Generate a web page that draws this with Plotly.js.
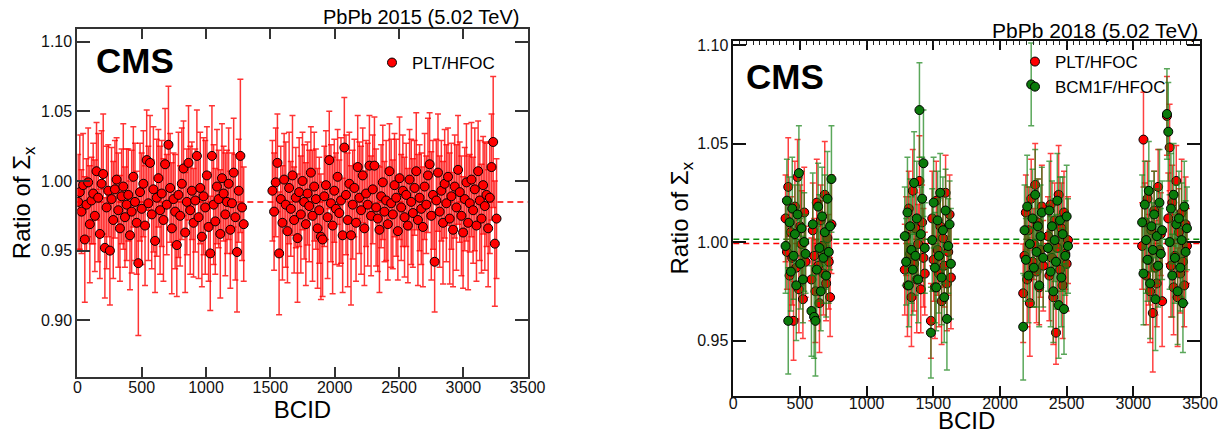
<!DOCTYPE html>
<html>
<head>
<meta charset="utf-8">
<script src="https://cdn.plot.ly/plotly-3.0.1.min.js"></script>
<style>html,body{margin:0;padding:0;background:#fff;}#chart{width:1224px;height:434px;}</style>
</head>
<body>
<div id="chart"></div>
<script>
// ---------- PbPb 2015 : PLT/HFOC ----------
const bcid2015 = [
  6,19,32,45,58,71,84,97,110,123,
  136,149,162,175,188,201,214,227,240,253,
  266,279,292,305,318,331,344,357,370,383,
  396,409,422,435,448,461,474,487,500,513,
  526,539,552,565,578,591,604,617,630,643,
  656,669,682,695,708,721,734,747,760,773,
  786,799,812,825,838,851,864,877,890,903,
  916,929,942,955,968,981,994,1007,1020,1033,
  1046,1059,1072,1085,1098,1111,1124,1137,1150,1163,
  1176,1189,1202,1215,1228,1241,1254,1267,1280,1293,
  1516,1529,1542,1555,1568,1581,1594,1607,1620,1633,
  1646,1659,1672,1685,1698,1711,1724,1737,1750,1763,
  1776,1789,1802,1815,1828,1841,1854,1867,1880,1893,
  1906,1919,1932,1945,1958,1971,1984,1997,2010,2023,
  2036,2049,2062,2075,2088,2101,2114,2127,2140,2153,
  2166,2179,2192,2205,2218,2231,2244,2257,2270,2283,
  2296,2309,2322,2335,2348,2361,2374,2387,2400,2413,
  2426,2439,2452,2465,2478,2491,2504,2517,2530,2543,
  2556,2569,2582,2595,2608,2621,2634,2647,2660,2673,
  2686,2699,2712,2725,2738,2751,2764,2777,2790,2803,
  2816,2829,2842,2855,2868,2881,2894,2907,2920,2933,
  2946,2959,2972,2985,2998,3011,3024,3037,3050,3063,
  3076,3089,3102,3115,3128,3141,3154,3167,3180,3193,
  3206,3219,3232,3245,3258
];
const ratio2015 = [
  0.985,0.992,0.978,0.997,0.958,0.983,0.999,0.969,0.986,0.991,
  0.975,1.007,0.988,0.962,0.998,1.005,0.952,0.981,0.993,0.950,
  0.987,0.972,0.994,1.001,0.979,0.966,0.989,0.996,0.974,0.983,
  0.990,0.961,0.978,1.003,0.985,0.970,0.941,0.992,0.980,0.998,
  0.968,1.015,0.984,1.013,0.976,0.994,0.957,0.988,1.002,0.979,
  0.991,0.972,1.012,0.983,1.026,0.995,0.966,0.987,0.978,0.954,
  0.990,0.975,0.998,1.009,0.963,0.985,1.013,0.979,0.993,0.970,
  0.986,1.018,0.974,0.995,0.960,0.989,0.981,1.004,0.967,0.948,
  1.018,0.983,0.971,0.996,0.987,0.962,1.002,0.991,0.976,0.985,
  0.998,0.965,0.984,1.006,0.974,0.949,0.993,1.018,0.981,0.969,
  0.993,0.978,0.999,1.013,0.948,0.987,0.970,1.001,0.983,0.964,
  0.995,0.980,1.004,0.972,0.988,0.959,0.992,0.976,1.000,0.985,
  0.969,0.991,0.982,1.006,0.975,0.996,0.987,0.966,0.979,0.960,
  0.958,0.989,0.997,0.974,1.015,0.984,0.968,0.993,0.980,1.003,
  0.977,0.986,0.961,1.024,0.990,0.972,0.998,0.961,0.983,0.995,
  0.970,1.010,0.988,0.979,1.004,0.966,0.991,0.983,1.011,0.975,
  0.994,1.011,0.981,0.973,0.965,0.989,0.999,0.978,0.986,0.969,
  1.007,0.984,0.976,0.997,0.988,0.964,1.002,0.981,0.993,0.974,
  0.990,0.968,1.001,0.985,0.977,0.995,1.007,0.972,0.988,0.980,
  0.967,0.996,0.983,1.004,1.012,0.975,0.990,0.942,0.986,1.006,
  0.978,0.993,0.970,0.998,0.984,1.003,0.973,0.989,0.965,0.996,
  0.981,1.008,0.992,0.975,0.963,0.987,0.999,0.970,0.984,1.001,
  0.979,0.994,0.968,1.007,0.986,0.973,0.997,0.982,0.990,0.966,
  0.988,1.010,1.028,0.955,0.973
];
const err2015 = [
  0.034,0.041,0.030,0.037,0.045,0.033,0.039,0.042,0.031,0.036,
  0.040,0.035,0.046,0.032,0.038,0.043,0.036,0.044,0.033,0.039,
  0.037,0.042,0.035,0.030,0.041,0.038,0.034,0.045,0.036,0.040,
  0.033,0.039,0.044,0.036,0.042,0.037,0.052,0.035,0.040,0.038,
  0.043,0.036,0.041,0.034,0.039,0.045,0.037,0.042,0.035,0.046,
  0.038,0.044,0.040,0.036,0.042,0.039,0.047,0.033,0.041,0.037,
  0.045,0.036,0.040,0.034,0.043,0.038,0.041,0.046,0.035,0.039,
  0.037,0.033,0.044,0.040,0.036,0.042,0.048,0.035,0.039,0.041,
  0.036,0.043,0.038,0.041,0.035,0.046,0.039,0.034,0.044,0.037,
  0.040,0.042,0.036,0.039,0.045,0.043,0.037,0.055,0.038,0.041,
  0.036,0.042,0.039,0.035,0.044,0.038,0.041,0.033,0.045,0.037,
  0.040,0.034,0.043,0.038,0.036,0.046,0.039,0.042,0.035,0.041,
  0.044,0.037,0.040,0.033,0.047,0.039,0.036,0.043,0.038,0.045,
  0.041,0.036,0.039,0.044,0.035,0.042,0.049,0.037,0.040,0.034,
  0.038,0.045,0.041,0.036,0.043,0.048,0.037,0.050,0.039,0.035,
  0.042,0.037,0.040,0.046,0.034,0.041,0.038,0.044,0.036,0.043,
  0.039,0.035,0.042,0.038,0.045,0.037,0.041,0.036,0.043,0.040,
  0.034,0.046,0.039,0.037,0.042,0.035,0.044,0.038,0.040,0.043,
  0.037,0.041,0.036,0.045,0.039,0.034,0.042,0.047,0.038,0.040,
  0.043,0.038,0.035,0.041,0.037,0.046,0.039,0.036,0.044,0.042,
  0.040,0.036,0.044,0.039,0.042,0.035,0.047,0.038,0.041,0.037,
  0.045,0.039,0.036,0.043,0.040,0.037,0.042,0.048,0.035,0.041,
  0.038,0.044,0.040,0.036,0.043,0.039,0.035,0.046,0.037,0.042,
  0.040,0.038,0.047,0.045,0.043
];
const meanLine2015 = 0.985;

// ---------- PbPb 2018 : PLT/HFOC and BCM1F/HFOC ----------
const bcid2018 = [
  392,402,412,422,432,442,452,462,472,482,492,502,512,522,532,542,
  586,596,606,616,626,636,646,656,666,676,686,696,706,716,726,736,
  1286,1296,1306,1316,1326,1336,1346,1356,1366,1376,1386,1396,1406,1416,1426,1436,
  1482,1492,1502,1512,1522,1532,1542,1552,1562,1572,1582,1592,1602,1612,1622,1632,
  2174,2184,2194,2204,2214,2224,2234,2244,2254,2264,2274,2284,2294,2304,2314,2324,
  2360,2370,2380,2390,2400,2410,2420,2430,2440,2450,2460,2470,2480,2490,2500,2510,
  3066,3076,3086,3096,3106,3116,3126,3136,3146,3156,3166,3176,3186,3196,3206,3216,
  3252,3262,3272,3282,3292,3302,3312,3322,3332,3342,3352,3362,3372,3382,3392,3402
];
const pltRatio2018 = [
  1.012,0.995,1.028,0.983,1.005,0.992,0.960,1.018,0.987,1.033,0.976,1.008,0.999,0.971,1.015,0.990,
  0.981,1.006,0.993,0.975,1.020,0.988,0.969,1.011,0.998,0.984,1.024,0.979,1.002,0.990,0.972,1.009,
  0.986,1.003,0.978,1.017,0.994,0.972,1.026,0.989,1.007,0.981,0.999,1.031,0.976,1.010,0.992,0.984,
  0.960,1.012,0.991,0.977,1.021,0.996,0.984,1.008,0.970,1.002,0.988,1.025,0.979,0.995,1.014,0.982,
  0.974,0.993,1.015,0.981,1.006,0.969,1.022,0.990,0.999,1.029,0.985,1.010,0.977,0.996,1.018,0.988,
  1.003,0.983,1.019,0.992,0.972,1.011,0.954,0.997,1.024,0.986,1.007,0.978,1.015,0.994,0.989,1.001,
  0.998,1.052,1.010,0.983,1.022,0.991,0.975,1.006,0.964,1.016,0.987,0.979,1.028,0.996,1.004,0.970,
  1.064,1.012,1.048,0.988,1.020,0.977,0.993,1.031,0.972,1.005,0.984,1.015,0.990,0.978,1.009,0.998
];
const pltErr2018 = [
  0.022,0.019,0.025,0.021,0.018,0.024,0.020,0.023,0.026,0.019,0.022,0.021,0.027,0.020,0.023,0.018,
  0.021,0.024,0.019,0.026,0.022,0.020,0.025,0.018,0.023,0.021,0.027,0.019,0.022,0.024,0.020,0.025,
  0.023,0.020,0.026,0.019,0.022,0.025,0.021,0.024,0.018,0.027,0.020,0.023,0.022,0.019,0.025,0.021,
  0.019,0.024,0.021,0.026,0.020,0.023,0.027,0.018,0.022,0.025,0.021,0.019,0.024,0.022,0.020,0.026,
  0.025,0.021,0.019,0.024,0.022,0.027,0.020,0.023,0.018,0.021,0.026,0.022,0.019,0.024,0.021,0.023,
  0.020,0.023,0.026,0.021,0.024,0.019,0.016,0.022,0.025,0.020,0.023,0.027,0.021,0.018,0.024,0.022,
  0.022,0.024,0.020,0.025,0.019,0.023,0.026,0.021,0.030,0.020,0.024,0.022,0.019,0.025,0.021,0.023,
  0.020,0.023,0.022,0.026,0.019,0.024,0.021,0.018,0.025,0.022,0.020,0.027,0.023,0.021,0.024,0.019
];
const bcmRatio2018 = [
  0.998,1.021,0.960,1.010,0.985,1.017,0.993,1.004,0.978,1.014,1.035,0.989,1.007,0.981,1.000,0.994,
  0.965,1.009,0.962,0.960,0.986,1.018,0.997,0.975,1.013,0.992,1.005,0.983,1.022,0.995,1.008,1.032,
  1.003,0.990,1.015,0.978,1.008,0.996,0.986,1.030,0.993,1.012,0.981,1.067,1.004,1.022,1.040,0.997,
  0.954,1.001,1.020,0.987,0.977,1.011,0.993,1.025,0.982,1.006,0.972,1.016,0.961,0.998,1.009,0.989,
  0.957,1.006,0.991,1.018,0.983,0.999,1.080,1.012,0.987,1.024,0.995,1.008,0.978,1.003,1.015,0.992,
  0.997,1.016,0.985,1.008,0.975,1.001,0.990,1.021,0.968,1.011,0.982,1.004,0.966,0.993,1.013,0.998,
  1.010,0.984,1.019,1.001,0.991,1.026,0.979,1.008,0.996,1.014,0.971,1.003,0.988,1.020,0.994,1.006,
  1.065,1.056,1.000,1.017,0.983,1.024,0.992,1.009,0.975,1.012,0.987,1.001,0.969,1.018,0.995,1.007
];
const bcmErr2018 = [
  0.024,0.021,0.027,0.023,0.020,0.026,0.022,0.025,0.028,0.021,0.024,0.023,0.029,0.022,0.025,0.020,
  0.023,0.026,0.021,0.028,0.024,0.022,0.027,0.020,0.025,0.023,0.029,0.021,0.024,0.026,0.022,0.027,
  0.025,0.022,0.028,0.021,0.024,0.027,0.023,0.026,0.020,0.029,0.022,0.024,0.024,0.021,0.027,0.023,
  0.023,0.026,0.023,0.028,0.022,0.025,0.029,0.020,0.024,0.027,0.023,0.021,0.026,0.024,0.022,0.028,
  0.027,0.023,0.021,0.026,0.024,0.029,0.021,0.025,0.020,0.023,0.028,0.024,0.021,0.026,0.023,0.025,
  0.022,0.025,0.028,0.023,0.026,0.021,0.024,0.024,0.027,0.022,0.025,0.029,0.023,0.020,0.026,0.024,
  0.024,0.026,0.022,0.027,0.021,0.025,0.028,0.023,0.024,0.022,0.026,0.024,0.021,0.027,0.023,0.025,
  0.023,0.025,0.024,0.028,0.021,0.026,0.023,0.020,0.027,0.024,0.022,0.029,0.025,0.023,0.026,0.021
];
const pltLine2018 = 0.9993;
const bcmLine2018 = 1.0014;

const FONT = 'Liberation Sans, Arial, Helvetica, sans-serif';
const RED = '#ff0000';
const GREEN = '#0b7a0b';

const traces = [
  {
    x: bcid2015, y: ratio2015, type: 'scatter', mode: 'markers', name: 'PLT/HFOC',
    xaxis: 'x', yaxis: 'y', legend: 'legend',
    marker: {color: RED, size: 9, line: {color: '#000', width: 1}},
    error_y: {type: 'data', array: err2015, visible: true, color: 'rgba(255,0,0,0.8)', thickness: 1.5, width: 3}
  },
  {
    x: bcid2018, y: pltRatio2018, type: 'scatter', mode: 'markers', name: 'PLT/HFOC',
    xaxis: 'x2', yaxis: 'y2', legend: 'legend2',
    marker: {color: RED, size: 9, line: {color: '#000', width: 1}},
    error_y: {type: 'data', array: pltErr2018, visible: true, color: 'rgba(255,0,0,0.75)', thickness: 1.5, width: 3}
  },
  {
    x: bcid2018, y: bcmRatio2018, type: 'scatter', mode: 'markers', name: 'BCM1F/HFOC',
    xaxis: 'x2', yaxis: 'y2', legend: 'legend2',
    marker: {color: GREEN, size: 9, line: {color: '#000', width: 1}},
    error_y: {type: 'data', array: bcmErr2018, visible: true, color: 'rgba(20,130,20,0.7)', thickness: 1.5, width: 3}
  },
  // carrier for the minor ticks of the 2018 top axis (draws nothing)
  {x: [0], y: [null], type: 'scatter', mode: 'markers', xaxis: 'x3', yaxis: 'y2', showlegend: false,
   hoverinfo: 'skip', marker: {opacity: 0}}
];

function xAx(domain, anchor, lc, lw, tl, labelStandoff, titleStandoff) {
  return {
    domain: domain, anchor: anchor, range: [0, 3500], tickvals: [0,500,1000,1500,2000,2500,3000,3500],
    ticktext: ['0','500','1000','1500','2000','2500','3000','3500'],
    ticks: 'inside', ticklen: tl, tickwidth: 1.5, tickcolor: lc, showline: true, linecolor: lc, linewidth: lw,
    mirror: 'ticks', showgrid: false, zeroline: false, ticklabelstandoff: labelStandoff,
    tickfont: {family: FONT, size: 16, color: '#111'},
    title: {text: 'BCID', font: {family: FONT, size: 24, color: '#000'}, standoff: titleStandoff}
  };
}
function yAx(domain, anchor, range, vals, lc, lw, titleStandoff) {
  return {
    domain: domain, anchor: anchor, range: range, tickvals: vals, tickformat: '.2f',
    ticks: 'inside', ticklen: 13, tickwidth: 1.5, tickcolor: lc, showline: true, linecolor: lc, linewidth: lw,
    mirror: 'ticks', showgrid: false, zeroline: false,
    tickfont: {family: FONT, size: 16, color: '#111'},
    title: {text: 'Ratio of Σ<sub>x</sub>', font: {family: FONT, size: 24, color: '#000'}, standoff: titleStandoff}
  };
}

const layout = {
  width: 1224, height: 434, margin: {l: 0, r: 0, t: 0, b: 0},
  paper_bgcolor: '#fff', plot_bgcolor: '#fff',
  font: {family: FONT, color: '#000'},
  xaxis: xAx([0.0632, 0.4311], 'y', '#333', 2, 10, -5, 0),
  yaxis: yAx([0.132, 0.9332], 'x', [0.8595, 1.1091], [0.90, 0.95, 1.00, 1.05, 1.10], '#333', 2, 4),
  xaxis2: xAx([0.5991, 0.9804], 'y2', '#111', 1.5, 10, -8, 13),
  yaxis2: yAx([0.0882, 0.9062], 'x2', [0.922, 1.1022], [0.95, 1.00, 1.05, 1.10], '#111', 1.5, 0),
  xaxis3: {overlaying: 'x2', anchor: 'y2', side: 'top', range: [0, 3500], dtick: 50, tick0: 0,
           ticks: 'inside', ticklen: 4, tickwidth: 1, tickcolor: '#222', showticklabels: false,
           showline: false, showgrid: false, zeroline: false},
  showlegend: true,
  legend: {x: 372/1224, y: 1 - 45/434, xanchor: 'left', yanchor: 'top', bgcolor: 'rgba(0,0,0,0)',
           font: {family: FONT, size: 17, color: '#000'}, tracegroupgap: 0},
  legend2: {x: 1015/1224, y: 1 - 44/434, xanchor: 'left', yanchor: 'top', bgcolor: 'rgba(0,0,0,0)',
            font: {family: FONT, size: 17, color: '#000'}, tracegroupgap: 0},
  shapes: [
    {type: 'line', xref: 'x domain', yref: 'y', x0: 0, x1: 1, y0: meanLine2015, y1: meanLine2015,
     line: {color: RED, width: 1.5, dash: '6px,4px'}, layer: 'below'},
    {type: 'line', xref: 'x2 domain', yref: 'y2', x0: 0, x1: 1, y0: pltLine2018, y1: pltLine2018,
     line: {color: RED, width: 1.5, dash: '6px,4px'}, layer: 'below'},
    {type: 'line', xref: 'x2 domain', yref: 'y2', x0: 0, x1: 1, y0: bcmLine2018, y1: bcmLine2018,
     line: {color: '#0a8a0a', width: 1.5, dash: '6px,4px'}, layer: 'below'}
  ],
  annotations: [
    {text: '<b>CMS</b>', xref: 'paper', yref: 'paper', x: 135/1224, y: 1 - 60/434, xanchor: 'center', yanchor: 'middle',
     showarrow: false, font: {family: FONT, size: 35, color: '#000'}},
    {text: '<b>CMS</b>', xref: 'paper', yref: 'paper', x: 785/1224, y: 1 - 76/434, xanchor: 'center', yanchor: 'middle',
     showarrow: false, font: {family: FONT, size: 35, color: '#000'}},
    {text: 'PbPb 2015 (5.02 TeV)', xref: 'paper', yref: 'paper', x: 521/1224, y: 1 - 17/434, xanchor: 'right', yanchor: 'middle',
     showarrow: false, font: {family: FONT, size: 20, color: '#000'}},
    {text: 'PbPb 2018 (5.02 TeV)', xref: 'paper', yref: 'paper', x: 1200/1224, y: 1 - 31/434, xanchor: 'right', yanchor: 'middle',
     showarrow: false, font: {family: FONT, size: 21, color: '#000'}}
  ]
};

Plotly.newPlot('chart', traces, layout, {displayModeBar: false, responsive: false});
</script>
</body>
</html>
